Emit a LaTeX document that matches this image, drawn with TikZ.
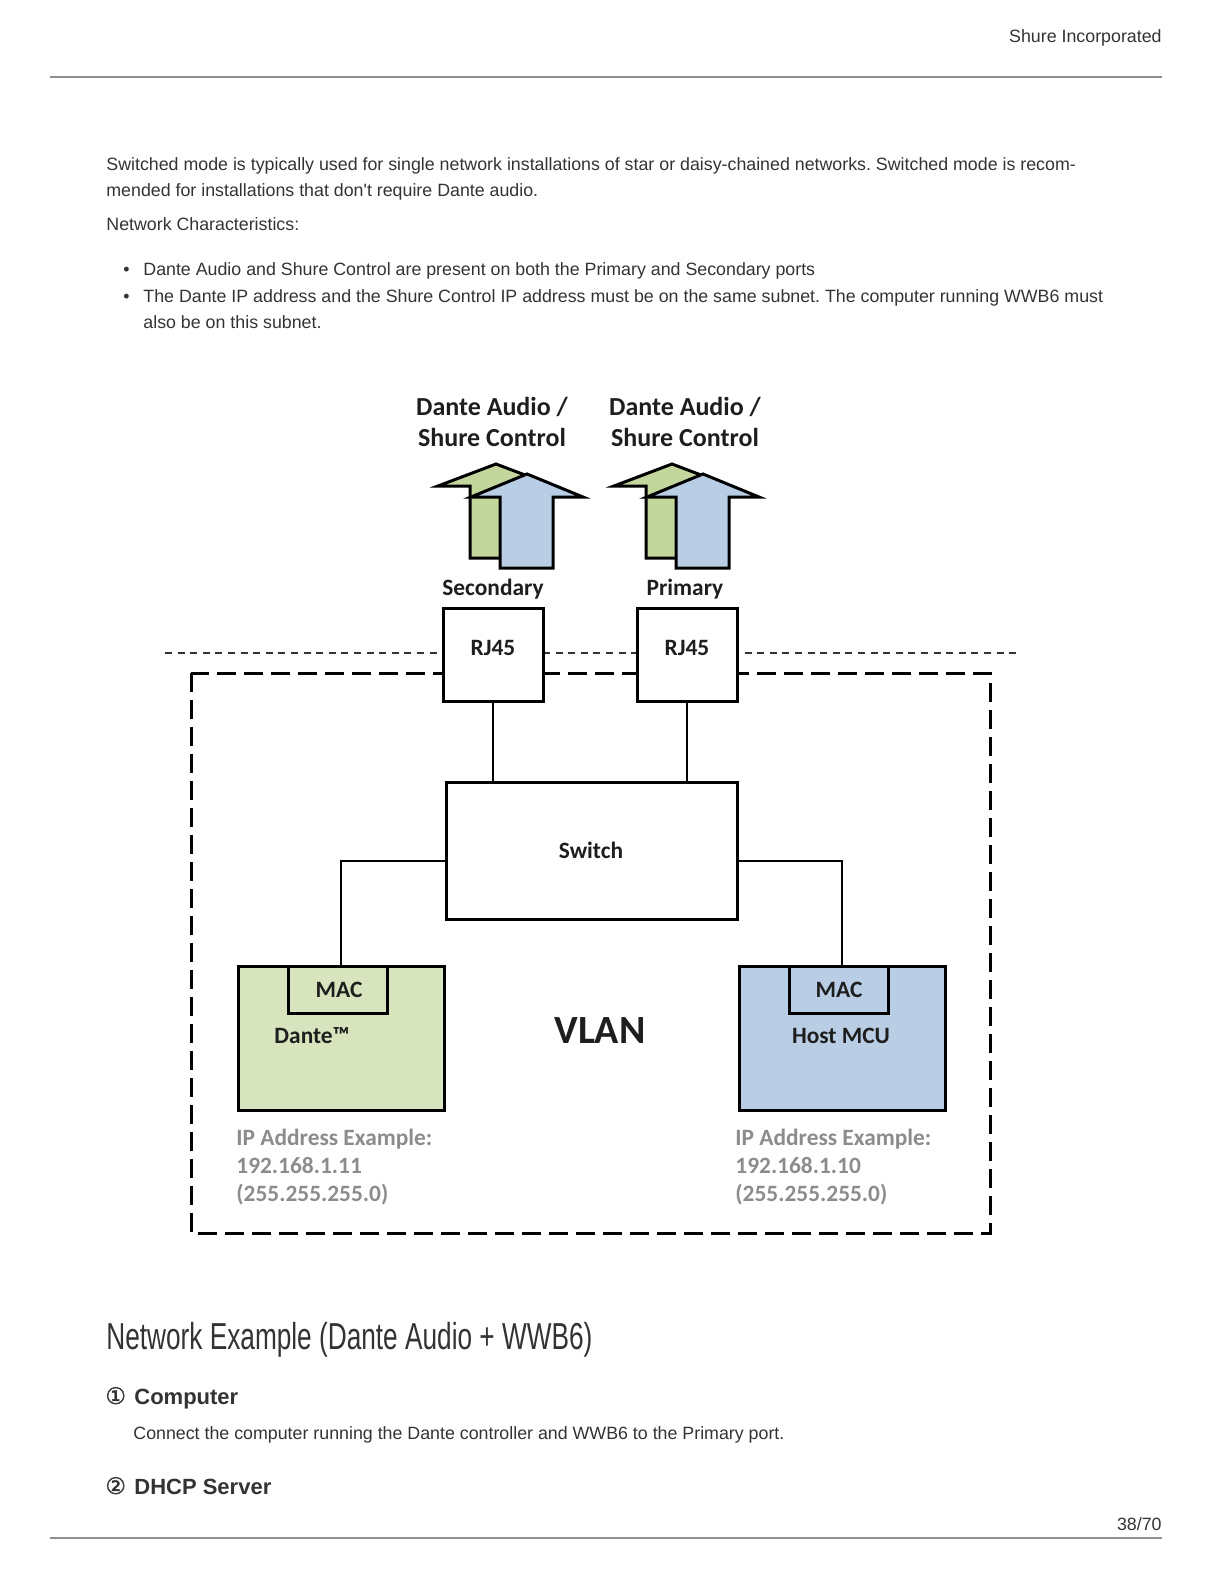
\documentclass[tikz,border=0pt]{standalone}
\usepackage{fontspec}
\usepackage{graphicx}
\setmainfont{Liberation Sans}
\newfontfamily\plainfont{Liberation Sans}
\newfontfamily\calfont{Carlito}
\newfontfamily\symfont[FakeBold=1.5]{DejaVu Sans}
\definecolor{txt}{HTML}{333333}
\definecolor{rulegray}{HTML}{8F8F8F}
\definecolor{garrow}{HTML}{C3D69B}
\definecolor{barrow}{HTML}{B9CDE5}
\definecolor{gbox}{HTML}{D7E4BD}
\definecolor{bbox}{HTML}{B9CDE5}
\definecolor{iptxt}{HTML}{8C8C8C}
\definecolor{dtxt}{HTML}{1E1E1E}
\frenchspacing
\begin{document}
\begin{tikzpicture}[x=0.5pt,y=-0.5pt, baseline=(current bounding box.south),
  body/.style={font=\fontsize{8.9}{11}\selectfont, text=txt, inner sep=0, anchor=base west},
  hrule/.style={draw=rulegray, line width=1pt},
  lbl/.style={font=\calfont\bfseries\fontsize{11.7}{14}\selectfont, text=dtxt, inner sep=0},
  ttl/.style={font=\calfont\bfseries\fontsize{13}{15}\selectfont, text=dtxt, inner sep=0, anchor=base},
  iplbl/.style={font=\calfont\bfseries\fontsize{11.7}{14}\selectfont, text=iptxt, inner sep=0, anchor=base west},
  boxst/.style={draw=black, line width=1.5pt, inner sep=0, fill=white},
  conn/.style={draw=black, line width=0.6pt},
  dotline/.style={draw=black!80, line width=0.75pt, dash pattern=on 3.5pt off 2.8pt},
  dashrect/.style={draw=black, line width=1.5pt, dash pattern=on 9.5pt off 4pt},
  arrowline/.style={draw=black, line width=1.5pt, line join=miter}
]
\useasboundingbox (0,0) rectangle (1224,1584);

% header and footer
\node[body, anchor=base east] (hdr) at (1162,43) {Shure Incorporated};
\coordinate (rtl) at (50,77); \coordinate (rtr) at (1162,77);
\draw[hrule] (rtl) -- (rtr);
\node[body, anchor=base east] (pg) at (1162,1530) {38/70};
\coordinate (rbl) at (50,1538); \coordinate (rbr) at (1162,1538);
\draw[hrule] (rbl) -- (rbr);

% paragraph text
\node[body] (p1) at (106,170) {Switched mode is typically used for single network installations of star or daisy-chained networks. Switched mode is recom-};
\node[body] (p2) at (106,196) {mended for installations that don{\plainfont'}t require Dante audio.};
\node[body] (p3) at (106,230) {Network Characteristics:};
\node[body] (b1) at (123,275) {\textbullet};
\node[body] (b1t) at (143,275) {Dante Audio and Shure Control are present on both the Primary and Secondary ports};
\node[body] (b2) at (123,302) {\textbullet};
\node[body] (b2t) at (143,302) {The Dante IP address and the Shure Control IP address must be on the same subnet. The computer running WWB6 must};
\node[body] (b2u) at (143,328) {also be on this subnet.};

% diagram: outer lines
\coordinate (dl) at (165,653); \coordinate (dr) at (1018,653);
\draw[dotline] (dl) -- (dr);
\draw[dashrect] (191,673) rectangle (990,1233);

% arrows
\foreach \dx in {0,176}{
  \draw[arrowline, fill=garrow] ({496+\dx},464) -- ({554+\dx},486) -- ({523+\dx},486) -- ({523+\dx},558)
     -- ({470+\dx},558) -- ({470+\dx},486) -- ({438+\dx},486) -- cycle;
  \draw[arrowline, fill=barrow] ({527+\dx},474) -- ({583+\dx},497) -- ({553+\dx},497) -- ({553+\dx},568)
     -- ({500+\dx},568) -- ({500+\dx},497) -- ({471+\dx},497) -- cycle;
}
\node[ttl] (t1a) at (492,415) {Dante Audio /};
\node[ttl] (t1b) at (492,446) {Shure Control};
\node[ttl] (t2a) at (685,415) {Dante Audio /};
\node[ttl] (t2b) at (685,446) {Shure Control};
\node[lbl, anchor=base] (sec) at (493,595) {Secondary};
\node[lbl, anchor=base] (pri) at (685,595) {Primary};

% ports
\node[boxst, minimum width=50pt, minimum height=46.5pt] (rjs) at (493,654.5) {};
\node[lbl] (rjsl) at (493,648) {RJ45};
\node[boxst, minimum width=50pt, minimum height=46.5pt] (rjp) at (687,654.5) {};
\node[lbl] (rjpl) at (687,648) {RJ45};

% switch
\node[boxst, minimum width=145.5pt, minimum height=68.5pt] (sw) at (591.5,850.5) {};
\node[lbl] (swl) at (591,850) {Switch};

% end boxes
\node[boxst, fill=gbox, minimum width=103pt, minimum height=72pt] (dante) at (341,1038) {};
\node[boxst, fill=gbox, minimum width=49.5pt, minimum height=23.5pt] (macg) at (337.5,989.5) {};
\node[lbl] (macgl) at (339,990) {MAC};
\node[lbl] (dantel) at (312,1036) {Dante™};

\node[boxst, fill=bbox, minimum width=103pt, minimum height=72pt] (host) at (842,1038) {};
\node[boxst, fill=bbox, minimum width=49.5pt, minimum height=23.5pt] (macb) at (838.5,989.5) {};
\node[lbl] (macbl) at (839,990) {MAC};
\node[lbl] (hostl) at (841,1036) {Host MCU};

\node[font=\calfont\bfseries\fontsize{20}{24}\selectfont, text=dtxt, inner sep=0] (vlan) at (600,1031) {VLAN};

% connectors
\draw[conn] (rjs.south) -- (rjs.south |- sw.north);
\draw[conn] (rjp.south) -- (rjp.south |- sw.north);
\draw[conn] ([yshift=-5.25pt]sw.west) -| (dante.north);
\draw[conn] ([yshift=-5.25pt]sw.east) -| (host.north);

% IP examples
\node[iplbl] (ipl1) at (236,1145) {IP Address Example:};
\node[iplbl] (ipl2) at (236,1173) {192.168.1.11};
\node[iplbl] (ipl3) at (236,1201) {(255.255.255.0)};
\node[iplbl] (ipr1) at (735,1145) {IP Address Example:};
\node[iplbl] (ipr2) at (735,1173) {192.168.1.10};
\node[iplbl] (ipr3) at (735,1201) {(255.255.255.0)};

% lower section
\node[anchor=west, inner sep=0, text=txt] (h2) at (106,1340) {\resizebox*{243pt}{17.5pt}{\fontsize{20}{24}\selectfont Network Example (Dante Audio + WWB6)}};
\node[body, font=\symfont\fontsize{11.5}{13}\selectfont] (n1) at (105,1404) {①};
\node[body, font=\bfseries\fontsize{11}{13}\selectfont] (c1) at (134,1404) {Computer};
\node[body] (c1t) at (133,1439) {Connect the computer running the Dante controller and WWB6 to the Primary port.};
\node[body, font=\symfont\fontsize{11.5}{13}\selectfont] (n2) at (105,1494) {②};
\node[body, font=\bfseries\fontsize{11}{13}\selectfont] (c2) at (134,1494) {DHCP Server};
\end{tikzpicture}
\end{document}
